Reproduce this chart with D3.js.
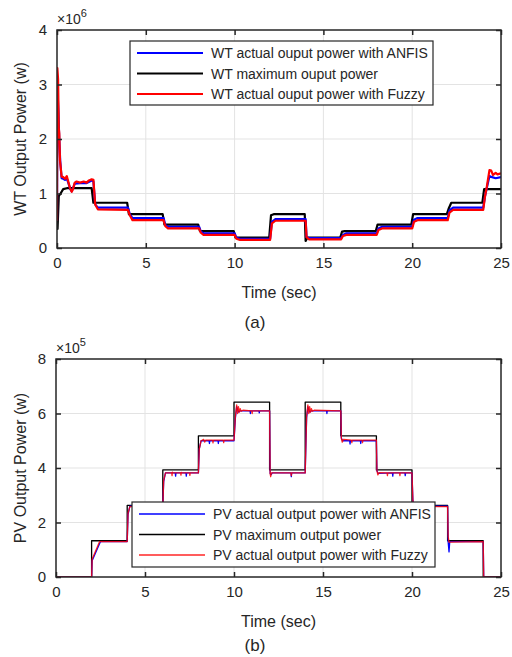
<!DOCTYPE html>
<html><head><meta charset="utf-8">
<script src="https://cdn.jsdelivr.net/npm/d3@7"></script>
<style>body{margin:0;background:#fff}svg{display:block}text{font-family:"Liberation Sans",Arial,sans-serif;fill:#262626}</style>
</head><body>
<script>
// ---------- DATA ----------
const xTicks = [0, 5, 10, 15, 20, 25];
const wtYTicks = [0, 1, 2, 3, 4];          // x10^6 W
const pvYTicks = [0, 2, 4, 6, 8];          // x10^5 W
const wtLegend = ["WT actual ouput power with ANFIS", "WT maximum ouput power", "WT actual ouput power with Fuzzy"];
const pvLegend = ["PV actual output power with ANFIS", "PV maximum output power", "PV actual output power with Fuzzy"];

// WT (x10^6 W), [time s, power]
const wtMax = [[0,0.55],[0.03,0.35],[0.1,0.95],[0.2,1.0],[0.35,1.08],[0.6,1.1],[1.95,1.1],[2.05,0.83],[3.95,0.83],[4.05,0.62],[5.95,0.62],[6.05,0.43],[7.95,0.43],[8.05,0.31],[9.95,0.31],[10.05,0.19],[11.95,0.19],[12.05,0.6],[12.2,0.62],[13.95,0.62],[14.0,0.13],[14.1,0.19],[15.95,0.19],[16.05,0.3],[16.2,0.31],[17.95,0.31],[18.05,0.43],[19.95,0.43],[20.05,0.62],[21.95,0.62],[22.05,0.72],[22.2,0.83],[23.95,0.83],[24.05,1.08],[25,1.08]];
const wtAnfis = [[0,0.5],[0.02,2.96],[0.08,2.5],[0.12,2.05],[0.18,1.6],[0.26,1.28],[0.35,1.27],[0.45,1.25],[0.55,1.28],[0.65,1.18],[0.75,1.08],[0.83,1.04],[1.0,1.18],[1.3,1.19],[1.67,1.19],[1.95,1.24],[2.05,1.22],[2.15,0.8],[2.3,0.74],[4.0,0.74],[4.1,0.62],[4.25,0.55],[6.0,0.55],[6.1,0.42],[6.25,0.39],[8.0,0.39],[8.1,0.3],[8.25,0.27],[10.0,0.27],[10.1,0.19],[10.3,0.17],[12.0,0.17],[12.1,0.48],[12.3,0.53],[14.0,0.53],[14.05,0.2],[14.2,0.18],[16.0,0.18],[16.1,0.24],[16.3,0.27],[18.0,0.27],[18.1,0.36],[18.3,0.39],[20.0,0.39],[20.1,0.52],[20.3,0.55],[22.0,0.55],[22.1,0.69],[22.3,0.74],[24.0,0.74],[24.1,0.95],[24.2,1.1],[24.35,1.32],[24.5,1.3],[24.7,1.28],[25,1.3]];
const wtFuzzy = [[0,0.5],[0.02,3.3],[0.06,3.1],[0.1,2.2],[0.13,2.1],[0.17,1.6],[0.26,1.31],[0.35,1.3],[0.45,1.27],[0.55,1.32],[0.65,1.2],[0.73,1.1],[0.83,1.03],[0.9,1.08],[1.0,1.2],[1.1,1.22],[1.3,1.2],[1.5,1.22],[1.67,1.2],[1.8,1.24],[1.95,1.26],[2.05,1.25],[2.15,0.8],[2.3,0.71],[4.0,0.7],[4.1,0.6],[4.25,0.51],[6.0,0.51],[6.1,0.4],[6.25,0.36],[8.0,0.36],[8.1,0.28],[8.25,0.24],[10.0,0.24],[10.1,0.17],[10.3,0.15],[12.0,0.15],[12.1,0.45],[12.3,0.5],[14.0,0.5],[14.05,0.2],[14.2,0.16],[16.0,0.16],[16.1,0.22],[16.3,0.24],[18.0,0.24],[18.1,0.33],[18.3,0.36],[20.0,0.36],[20.1,0.48],[20.3,0.51],[22.0,0.51],[22.1,0.65],[22.3,0.7],[24.0,0.7],[24.1,0.95],[24.2,1.12],[24.35,1.43],[24.45,1.42],[24.55,1.34],[24.7,1.38],[24.8,1.35],[25,1.37]];

// PV (x10^5 W), [time s, power]
const pvMax = [[0,0],[2,0],[2,1.33],[4,1.33],[4,2.63],[6,2.63],[6,3.93],[8,3.93],[8,5.18],[10,5.18],[10,6.42],[12,6.42],[12,3.93],[14,3.93],[14,6.42],[16,6.42],[16,5.18],[18,5.18],[18,3.93],[20,3.93],[20,2.63],[22,2.63],[22,1.33],[24,1.33],[24,0],[25,0]];
const pvAnfis = [[0,0],[2.0,0],[2.03,0.6],[2.5,1.3],[4.0,1.3],[4.05,2.3],[4.15,2.6],[6.0,2.6],[6.05,3.5],[6.15,3.82],[6.7,3.82],[6.72,3.7],[6.74,3.82],[7.3,3.82],[7.32,3.7],[7.34,3.82],[8.0,3.82],[8.05,4.7],[8.15,5.0],[8.6,5.0],[8.62,4.9],[8.64,5.0],[9.1,5.0],[9.12,4.9],[9.14,5.0],[10.0,5.0],[10.08,5.85],[10.15,6.25],[10.25,6.05],[10.35,6.1],[10.9,6.1],[10.92,6.0],[10.94,6.1],[11.4,6.1],[11.42,6.02],[11.44,6.1],[12.0,6.1],[12.03,3.8],[12.08,3.75],[12.15,3.82],[13.2,3.82],[13.22,3.68],[13.24,3.82],[14.0,3.82],[14.08,5.85],[14.15,6.25],[14.25,6.05],[14.35,6.1],[15.2,6.1],[15.22,6.0],[15.24,6.1],[16.0,6.1],[16.03,5.1],[16.1,5.0],[16.5,5.0],[16.52,4.88],[16.54,5.0],[17.1,5.0],[17.12,4.9],[17.14,5.0],[18.0,5.0],[18.03,3.9],[18.1,3.8],[18.9,3.82],[18.92,3.7],[18.94,3.82],[19.6,3.82],[19.62,3.72],[19.64,3.82],[20.0,3.82],[20.05,2.8],[20.1,2.6],[22.0,2.6],[22.03,1.3],[22.08,0.92],[22.12,1.3],[24.0,1.3],[24.03,0],[25,0]];
const pvFuzzy = [[0,0],[2.0,0],[2.03,0.65],[2.45,1.3],[4.0,1.3],[4.05,2.35],[4.15,2.58],[6.0,2.58],[6.05,3.55],[6.15,3.82],[6.5,3.82],[6.52,3.72],[6.54,3.85],[6.56,3.82],[7.0,3.82],[7.02,3.74],[7.04,3.84],[7.06,3.82],[7.5,3.82],[7.52,3.73],[7.54,3.82],[8.0,3.82],[8.05,4.7],[8.15,5.0],[8.3,5.05],[8.35,4.95],[8.4,5.02],[8.8,5.02],[8.82,4.92],[8.84,5.02],[9.4,5.02],[9.42,4.93],[9.44,5.02],[10.0,5.02],[10.08,5.9],[10.15,6.32],[10.2,6.0],[10.25,6.25],[10.3,6.05],[10.35,6.18],[10.4,6.08],[10.5,6.12],[11.0,6.1],[11.02,6.0],[11.04,6.1],[12.0,6.1],[12.03,3.8],[12.06,3.68],[12.1,3.82],[13.2,3.82],[13.22,3.72],[13.24,3.82],[14.0,3.82],[14.08,5.9],[14.15,6.32],[14.2,6.0],[14.25,6.25],[14.3,6.05],[14.35,6.18],[14.4,6.08],[14.5,6.12],[16.0,6.1],[16.03,5.1],[16.08,4.95],[16.15,5.05],[16.6,5.02],[16.62,4.93],[16.64,5.02],[17.2,5.02],[17.22,4.93],[17.24,5.02],[18.0,5.02],[18.03,3.9],[18.08,3.75],[18.15,3.83],[18.6,3.82],[18.62,3.72],[18.64,3.82],[19.3,3.82],[19.32,3.72],[19.34,3.82],[20.0,3.82],[20.05,2.8],[20.1,2.6],[21.5,2.58],[22.0,2.58],[22.03,1.5],[22.08,1.28],[24.0,1.3],[24.03,0],[25,0]];

// ---------- DRAW ----------
const svg = d3.select("body").append("svg").attr("width", 512).attr("height", 657);

function panel(o) {
  const x = d3.scaleLinear().domain([0, 25]).range([o.left, o.right]);
  const y = d3.scaleLinear().domain([0, o.ymax]).range([o.bottom, o.top]);
  const g = svg.append("g");
  g.selectAll(".gx").data(xTicks.slice(1, -1)).join("line")
    .attr("x1", d => x(d)).attr("x2", d => x(d)).attr("y1", o.top).attr("y2", o.bottom)
    .attr("stroke", "#e3e3e3").attr("stroke-width", 1);
  g.selectAll(".gy").data(o.yTicks.slice(1, -1)).join("line")
    .attr("y1", d => y(d)).attr("y2", d => y(d)).attr("x1", o.left).attr("x2", o.right)
    .attr("stroke", "#e3e3e3").attr("stroke-width", 1);
  const line = d3.line().x(d => x(d[0])).y(d => y(d[1]));
  const clip = "clip" + o.id;
  svg.append("clipPath").attr("id", clip).append("rect")
    .attr("x", o.left).attr("y", o.top).attr("width", o.right - o.left).attr("height", o.bottom - o.top);
  const lg = g.append("g").attr("clip-path", `url(#${clip})`);
  o.series.forEach(s => {
    lg.append("path").datum(s.data).attr("d", line).attr("fill", "none")
      .attr("stroke", s.color).attr("stroke-width", s.width).attr("stroke-linejoin", "round")
      .attr("opacity", s.opacity || 1);
  });
  const fmt = d3.format("d");
  const ax = d3.axisBottom(x).tickValues(xTicks).tickFormat(fmt).tickSizeInner(-5).tickSizeOuter(0).tickPadding(9);
  const ay = d3.axisLeft(y).tickValues(o.yTicks).tickFormat(fmt).tickSizeInner(-5).tickSizeOuter(0).tickPadding(10);
  const gx = g.append("g").attr("transform", `translate(0,${o.bottom})`).call(ax);
  const gy = g.append("g").attr("transform", `translate(${o.left},0)`).call(ay);
  const gt = g.append("g").attr("transform", `translate(0,${o.top})`).call(d3.axisTop(x).tickValues(xTicks).tickSizeInner(-5).tickSizeOuter(0).tickFormat(""));
  const gr = g.append("g").attr("transform", `translate(${o.right},0)`).call(d3.axisRight(y).tickValues(o.yTicks).tickSizeInner(-5).tickSizeOuter(0).tickFormat(""));
  [gx, gy, gt, gr].forEach(a => {
    a.select(".domain").remove();
    a.selectAll("line").attr("stroke", "#262626").attr("stroke-width", 1.5);
    a.selectAll("text").attr("font-size", 15).attr("fill", "#262626").style("font-family", "'Liberation Sans', Arial, sans-serif");
  });
  g.append("rect").attr("x", o.left).attr("y", o.top).attr("width", o.right - o.left).attr("height", o.bottom - o.top)
    .attr("fill", "none").attr("stroke", "#262626").attr("stroke-width", 1.5);
  const m = g.append("text").attr("x", o.left).attr("y", o.top - 6).attr("font-size", 14).attr("fill", "#555");
  m.append("tspan").text("×10");
  m.append("tspan").attr("dy", -7).attr("font-size", 11).text(o.exp);
  g.append("text").attr("x", (o.left + o.right) / 2).attr("y", o.bottom + 50).attr("text-anchor", "middle")
    .attr("font-size", 16).text("Time (sec)");
  g.append("text").attr("transform", `translate(26,${(o.top + o.bottom) / 2}) rotate(-90)`)
    .attr("text-anchor", "middle").attr("font-size", 16).text(o.ylabel);
  g.append("text").attr("x", 255).attr("y", o.capY).attr("text-anchor", "middle").attr("font-size", 17).text(o.caption);
  // legend: order ANFIS, maximum, Fuzzy
  const L = o.legend;
  g.append("rect").attr("x", L.x).attr("y", L.y).attr("width", L.w).attr("height", L.h)
    .attr("fill", "#fff").attr("stroke", "#262626").attr("stroke-width", 1.2);
  const legSeries = [o.series[1], o.series[0], o.series[2]];
  o.legendText.forEach((t, i) => {
    const yy = L.y + L.first + i * L.step;
    g.append("line").attr("x1", L.x + 7).attr("x2", L.x + 73).attr("y1", yy).attr("y2", yy)
      .attr("stroke", legSeries[i].color).attr("stroke-width", legSeries[i].lw)
      .attr("opacity", legSeries[i].opacity || 1);
    g.append("text").attr("x", L.x + 81).attr("y", yy + 5).attr("font-size", 14).text(t);
  });
}

panel({
  id: "a", left: 57, right: 501, top: 30, bottom: 248, ymax: 4, yTicks: wtYTicks, exp: "6",
  ylabel: "WT Output Power (w)", caption: "(a)", capY: 328,
  series: [
    { data: wtMax, color: "#000", width: 2.2, lw: 2 },
    { data: wtAnfis, color: "#0000ff", width: 2.2, lw: 2 },
    { data: wtFuzzy, color: "#ff0000", width: 2.2, lw: 2 }
  ],
  legendText: wtLegend,
  legend: { x: 130, y: 41, w: 303, h: 64, first: 12, step: 20.5 }
});

panel({
  id: "b", left: 56, right: 501, top: 359, bottom: 577, ymax: 8, yTicks: pvYTicks, exp: "5",
  ylabel: "PV Output Power (w)", caption: "(b)", capY: 651,
  series: [
    { data: pvMax, color: "#000", width: 1.3, lw: 1.3 },
    { data: pvAnfis, color: "#0000ff", width: 1.3, lw: 1.3 },
    { data: pvFuzzy, color: "#ff0000", width: 1.3, lw: 1.3, opacity: 0.85 }
  ],
  legendText: pvLegend,
  legend: { x: 132, y: 502, w: 303, h: 65, first: 12, step: 20.5 }
});
</script>
</body></html>
